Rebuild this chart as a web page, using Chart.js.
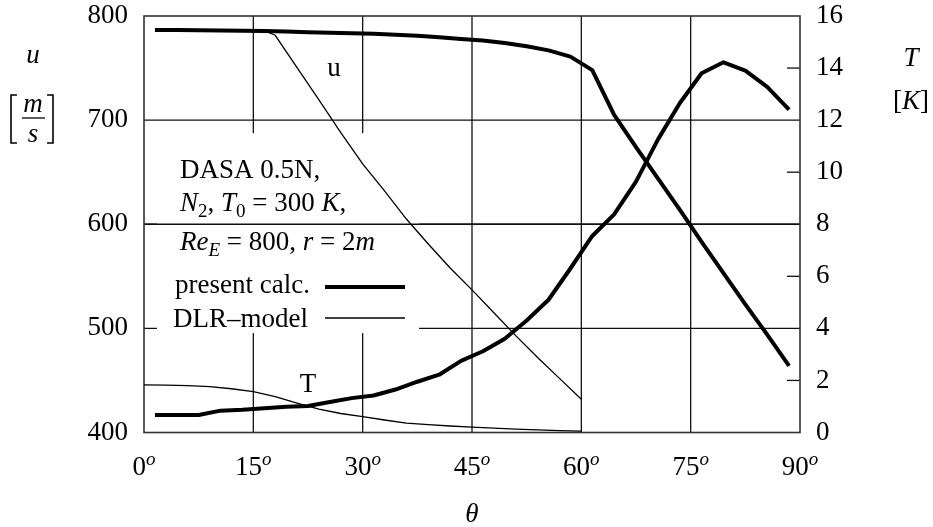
<!DOCTYPE html>
<html><head><meta charset="utf-8">
<script src="https://cdn.jsdelivr.net/npm/chart.js@4/dist/chart.umd.min.js"></script>
<style>html,body{margin:0;padding:0;background:#fff;}</style>
</head><body>
<canvas id="c" width="933" height="527"></canvas>
<script>
// ---- data ----
const thetaPresent = [1.5,4.5,7.5,10.5,13.5,16.5,19.5,22.5,25.5,28.5,31.5,34.5,37.5,40.5,43.5,46.5,49.5,52.5,55.5,58.5,61.5,64.5,67.5,70.5,73.5,76.5,79.5,82.5,85.5,88.5];
const uPresent = [786.5,786.5,786.3,786.0,785.8,785.5,785.0,784.5,784.0,783.5,783.0,782.0,781.0,779.5,778.0,776.5,774.0,771.0,767.0,761.0,748.0,705.0,674.0,644.0,614.0,583.0,553.0,523.0,494.0,464.0];
const tPresent = [0.67,0.67,0.67,0.84,0.87,0.93,0.99,1.02,1.17,1.32,1.42,1.65,1.95,2.22,2.75,3.12,3.60,4.30,5.10,6.30,7.55,8.38,9.64,11.25,12.65,13.80,14.22,13.90,13.28,12.40];
const thetaDlrU = [1.5,15,16.8,18,21,24,27,30,33,36,39,42,45,48,51,54,57,60];
const uDlr = [786.5,786.0,785.0,781.5,750.5,719.5,688.0,658.0,632.0,605.0,581.0,558.0,537.0,515.0,493.0,472.0,452.0,432.0];
const thetaDlrT = [0,3,6,9,12,15,18,21,24,27,30,33,36,39,42,45,48,51,54,57,60];
const tDlr = [1.83,1.82,1.80,1.76,1.68,1.57,1.38,1.13,0.90,0.73,0.61,0.48,0.36,0.30,0.25,0.21,0.17,0.13,0.10,0.07,0.05];
const xTicks = [0,15,30,45,60,75,90];
const uTicks = [400,500,600,700,800];
const tTicks = [0,2,4,6,8,10,12,14,16];
const gridTheta = [15,30,45,60,75];
const gridU = [500,600,700];
const innerTicksT = [2,6,10,14];

const FONT = '"Liberation Serif", "Times New Roman", serif';
const S = 27;
const pts = (xs, ys) => xs.map((v, i) => ({x: v, y: ys[i]}));

function line(ctx, x1, y1, x2, y2) { ctx.beginPath(); ctx.moveTo(x1, y1); ctx.lineTo(x2, y2); ctx.stroke(); }

function rich(ctx, segs, x, y, align, size) {
  const sub = Math.round(size * 0.7);
  const fnt = s => (s.i ? 'italic ' : '') + (s.sub || s.sup ? sub : size) + 'px ' + FONT;
  let w = 0;
  segs.forEach(s => { ctx.font = fnt(s); w += ctx.measureText(s.t).width; });
  let cx = align === 'center' ? x - w / 2 : (align === 'right' ? x - w : x);
  ctx.textAlign = 'left';
  segs.forEach(s => {
    ctx.font = fnt(s);
    const dy = s.sub ? size * 0.22 : (s.sup ? -size * 0.38 : 0);
    ctx.fillText(s.t, cx, y + dy);
    cx += ctx.measureText(s.t).width;
  });
}

const deco = {
  id: 'deco',
  beforeDatasetsDraw(chart) {
    const {ctx, chartArea: a, scales: {x, y, y1}} = chart;
    ctx.save();
    ctx.strokeStyle = '#111'; ctx.lineWidth = 1.3;
    gridTheta.forEach(v => { const p = x.getPixelForValue(v); line(ctx, p, a.top, p, a.bottom); });
    gridU.forEach(v => { const p = y.getPixelForValue(v); line(ctx, a.left, p, a.right, p); });
    innerTicksT.forEach(v => { const p = y1.getPixelForValue(v); line(ctx, a.right - 13, p, a.right, p); });
    // annotation box (white background hides grid)
    ctx.fillStyle = '#fff';
    ctx.fillRect(a.left + 13, y.getPixelForValue(700) + 13, 262, 200);
    const p6 = y.getPixelForValue(600); line(ctx, a.left, p6, a.right, p6);
    ctx.strokeStyle = '#333'; ctx.lineWidth = 1.6;
    ctx.strokeRect(a.left, a.top, a.right - a.left, a.bottom - a.top);
    ctx.restore();
  },
  afterDraw(chart) {
    const {ctx, scales: {x}} = chart;
    ctx.save();
    ctx.fillStyle = '#000'; ctx.strokeStyle = '#000';
    ctx.textBaseline = 'alphabetic';
    // x tick labels with superscript o
    xTicks.forEach(v => {
      rich(ctx, [{t: String(v)}, {t: 'o', i: true, sup: true}], x.getPixelForValue(v), 475, 'center', S);
    });
    // left axis title
    ctx.textAlign = 'center';
    ctx.font = 'italic ' + S + 'px ' + FONT; ctx.fillText('u', 33, 63);
    ctx.fillText('m', 33, 112);
    ctx.fillText('s', 33, 142);
    ctx.lineWidth = 1.3; line(ctx, 22, 118, 45, 118);
    ctx.lineWidth = 1.6;
    ctx.beginPath(); ctx.moveTo(17, 95); ctx.lineTo(11, 95); ctx.lineTo(11, 143); ctx.lineTo(17, 143); ctx.stroke();
    ctx.beginPath(); ctx.moveTo(47, 95); ctx.lineTo(53, 95); ctx.lineTo(53, 143); ctx.lineTo(47, 143); ctx.stroke();
    // right axis title
    ctx.textAlign = 'center';
    ctx.font = 'italic ' + S + 'px ' + FONT; ctx.fillText('T', 911, 66);
    rich(ctx, [{t: '['}, {t: 'K', i: true}, {t: ']'}], 911, 109, 'center', S);
    // x title
    ctx.textAlign = 'center';
    ctx.font = 'italic ' + S + 'px ' + FONT; ctx.fillText('θ', 472, 522);
    // curve labels
    ctx.font = S + 'px ' + FONT;
    ctx.fillText('u', 334, 76);
    ctx.fillText('T', 308, 392);
    // annotation
    rich(ctx, [{t: 'DASA 0.5N,'}], 180, 178, 'left', S);
    rich(ctx, [{t: 'N', i: true}, {t: '2', sub: true}, {t: ', '}, {t: 'T', i: true}, {t: '0', sub: true}, {t: ' = 300 '}, {t: 'K', i: true}, {t: ','}], 180, 211, 'left', S);
    rich(ctx, [{t: 'Re', i: true}, {t: 'E', i: true, sub: true}, {t: ' = 800, '}, {t: 'r', i: true}, {t: ' = 2'}, {t: 'm', i: true}], 180, 250, 'left', S);
    // legend
    rich(ctx, [{t: 'present calc.'}], 310, 293, 'right', S);
    rich(ctx, [{t: 'DLR–model'}], 308, 327, 'right', S);
    ctx.lineWidth = 4; line(ctx, 325, 287, 405, 287);
    ctx.lineWidth = 1.3; line(ctx, 325, 318, 405, 318);
    ctx.restore();
  }
};

const thick = {borderColor: '#000', borderWidth: 4, pointRadius: 0, tension: 0, fill: false, borderJoinStyle: 'round', borderCapStyle: 'butt'};
const thin = {borderColor: '#000', borderWidth: 1.3, pointRadius: 0, tension: 0, fill: false};
const noPad = s => { s.paddingTop = 0; s.paddingBottom = 0; s.paddingLeft = 0; s.paddingRight = 0; };

new Chart(document.getElementById('c'), {
  type: 'line',
  data: {
    datasets: [
      Object.assign({label: 'u present calc.', data: pts(thetaPresent, uPresent), yAxisID: 'y'}, thick),
      Object.assign({label: 'T present calc.', data: pts(thetaPresent, tPresent), yAxisID: 'y1'}, thick),
      Object.assign({label: 'u DLR-model', data: pts(thetaDlrU, uDlr), yAxisID: 'y'}, thin),
      Object.assign({label: 'T DLR-model', data: pts(thetaDlrT, tDlr), yAxisID: 'y1'}, thin)
    ]
  },
  options: {
    responsive: false, animation: false, devicePixelRatio: 1,
    layout: {padding: {top: 16, left: 0, right: 0, bottom: 0}},
    plugins: {legend: {display: false}, tooltip: {enabled: false}},
    scales: {
      x: {
        type: 'linear', min: 0, max: 90,
        afterBuildTicks: s => { s.ticks = xTicks.map(v => ({value: v})); },
        ticks: {display: false},
        grid: {display: false}, border: {display: false},
        afterFit: s => { s.height = 94.5; noPad(s); }
      },
      y: {
        position: 'left', min: 400, max: 800,
        afterBuildTicks: s => { s.ticks = uTicks.map(v => ({value: v})); },
        ticks: {font: {family: FONT, size: S}, color: '#000', padding: 8},
        grid: {display: false}, border: {display: false},
        afterFit: s => { s.width = 144; noPad(s); }
      },
      y1: {
        position: 'right', min: 0, max: 16,
        afterBuildTicks: s => { s.ticks = tTicks.map(v => ({value: v})); },
        ticks: {font: {family: FONT, size: S}, color: '#000', padding: 8},
        grid: {display: false}, border: {display: false},
        afterFit: s => { s.width = 133; noPad(s); }
      }
    }
  },
  plugins: [deco]
});
</script>
</body></html>
